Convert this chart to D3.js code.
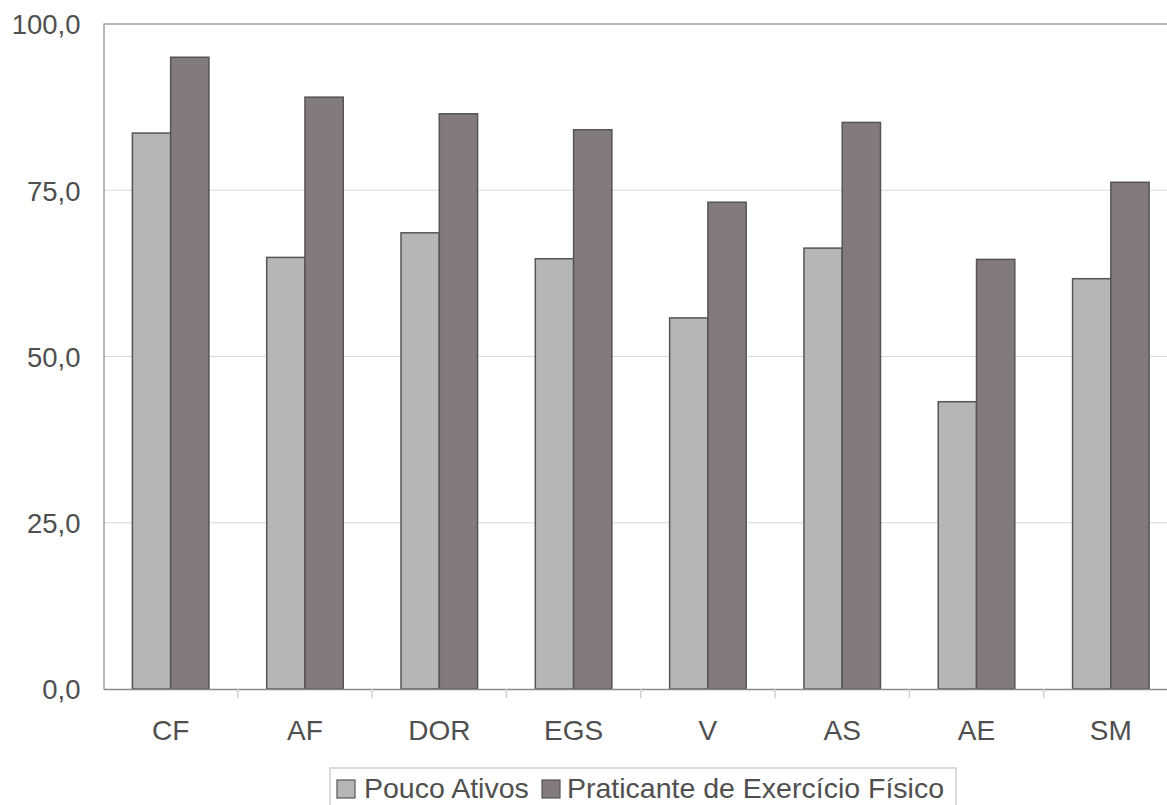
<!DOCTYPE html>
<html><head><meta charset="utf-8">
<script src="https://cdn.jsdelivr.net/npm/d3@7"></script>
<style>
html,body{margin:0;padding:0;background:#fff;overflow:hidden}
svg{display:block}
text{font-family:"Liberation Sans",Arial,sans-serif;fill:#4f4f4f}
</style></head><body>
<svg id="c" width="1167" height="805"></svg>
<script>
const categories = ["CF","AF","DOR","EGS","V","AS","AE","SM"];
const seriesNames = ["Pouco Ativos","Praticante de Exercício Físico"];
const poucoAtivos = [83.6, 64.9, 68.6, 64.7, 55.8, 66.3, 43.2, 61.7];
const praticantes = [95.0, 89.0, 86.5, 84.1, 73.2, 85.2, 64.6, 76.2];
const yTicks = [0, 25, 50, 75, 100];

(function(){
const svg = d3.select("#c");
const mLeft = 103.5, mRight = 1178, mTop = 24, mBottom = 689;

const x = d3.scaleBand().domain(categories).range([mLeft, mRight]).paddingInner(0.43).paddingOuter(0.215);
const xs = d3.scaleBand().domain(seriesNames).range([0, x.bandwidth()]);
const y = d3.scaleLinear().domain([0, 100]).range([mBottom, mTop]);
const fmt = d => d3.format(".1f")(d).replace(".", ",");

// gridlines
svg.append("g").selectAll("line").data(yTicks.filter(d => d > 0 && d < 100)).join("line")
  .attr("x1", mLeft).attr("x2", 1167).attr("y1", d => y(d)).attr("y2", d => y(d))
  .attr("stroke", "#d9d9d9").attr("stroke-width", 1.2);
// top border
svg.append("line").attr("x1", mLeft).attr("x2", 1167).attr("y1", y(100)).attr("y2", y(100))
  .attr("stroke", "#a0a0a0").attr("stroke-width", 1.5);

// y axis
const yAxis = d3.axisLeft(y).tickValues(yTicks).tickFormat(fmt).tickSize(0).tickPadding(23);
const gy = svg.append("g").attr("transform", `translate(${mLeft},0)`).call(yAxis);
gy.select(".domain").attr("stroke", "#a0a0a0").attr("stroke-width", 1.5);
gy.selectAll("text").style("font-size", "27.5px").attr("dy", "0.36em");

// bars
const data = categories.map((c, i) => ({c, vals: [poucoAtivos[i], praticantes[i]]}));
const fills = ["#b6b6b6", "#827a7d"];
const groups = svg.append("g").selectAll("g").data(data).join("g")
  .attr("transform", d => `translate(${x(d.c)},0)`);
groups.selectAll("rect").data(d => d.vals.map((v, j) => ({v, s: seriesNames[j], j}))).join("rect")
  .attr("x", d => xs(d.s)).attr("width", xs.bandwidth())
  .attr("y", d => y(d.v)).attr("height", d => y(0) - y(d.v))
  .attr("fill", d => fills[d.j]).attr("stroke", "#555").attr("stroke-width", 1.5);

// x axis
const xAxis = d3.axisBottom(x).tickSize(0);
const gx = svg.append("g").attr("transform", `translate(0,${mBottom})`).call(xAxis);
gx.select(".domain").attr("stroke", "#8a8a8a").attr("stroke-width", 1.5);
gx.selectAll("text").style("font-size", "28px").attr("y", 51).attr("dy", 0);
// boundary tick marks
const bounds = categories.slice(1).map(c => x(c) - x.step() * x.paddingInner() / 2);
svg.append("g").selectAll("line").data(bounds).join("line")
  .attr("x1", d => d).attr("x2", d => d).attr("y1", mBottom).attr("y2", mBottom + 9)
  .attr("stroke", "#d0d0d0").attr("stroke-width", 1.5);

// legend
const lg = svg.append("g");
lg.append("rect").attr("x", 330).attr("y", 768).attr("width", 626).attr("height", 50)
  .attr("fill", "#fff").attr("stroke", "#d0d0d0").attr("stroke-width", 1.5);
const legendItems = [{x: 337, tx: 364}, {x: 542, tx: 567}];
seriesNames.forEach((s, j) => {
  lg.append("rect").attr("x", legendItems[j].x).attr("y", 780).attr("width", 18).attr("height", 18)
    .attr("fill", fills[j]).attr("stroke", "#555").attr("stroke-width", 1.2);
  lg.append("text").attr("x", legendItems[j].tx).attr("y", 798).style("font-size", "28.5px").text(s);
});
})();
</script>
</body></html>
